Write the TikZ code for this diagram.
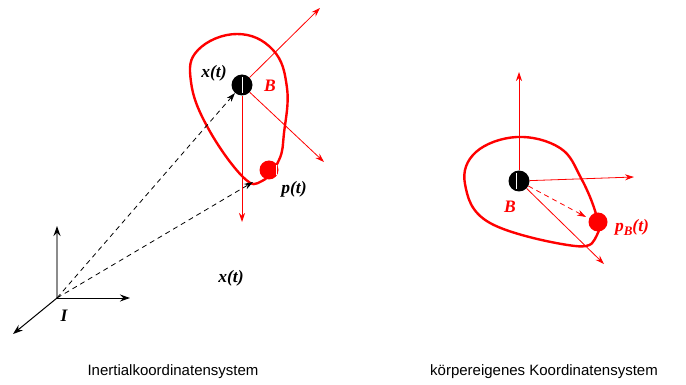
\documentclass[tikz,border=0pt]{standalone}
\usepackage{fontspec}
\setmainfont{Liberation Serif}
\setsansfont{Liberation Sans}
\usetikzlibrary{arrows.meta}
\begin{document}
\begin{tikzpicture}[x=1pt,y=-1pt,
  redaxis/.style={red, line width=0.8pt, -{Stealth[length=9pt,width=6pt]}},
  blackaxis/.style={black, line width=1pt, -{Stealth[length=10pt,width=7pt]}},
  dasharrow/.style={black, line width=0.8pt, dash pattern=on 5pt off 4pt, -{Stealth[length=9pt,width=6pt]}},
  blob/.style={red, line width=2.4pt},
  center/.style={circle, fill=black, inner sep=0pt, minimum size=21pt},
  point/.style={circle, fill=red, inner sep=0pt, minimum size=19pt},
  mlabel/.style={font=\fontsize{17.5}{19}\selectfont\bfseries\itshape, inner sep=1pt},
  caption/.style={font=\sffamily\fontsize{15}{17}\selectfont, inner sep=0pt}]
\useasboundingbox (0,0) rectangle (686,385);
% ---------- left: inertial frame ----------
\coordinate (O) at (57,298);
\coordinate (Iz) at (57,226);
\coordinate (Iy) at (130,298);
\coordinate (Ix) at (13,334);
\draw[blackaxis, draw=black!45, -{Stealth[length=10pt,width=7pt,color=black]}, line width=1.5pt] (O) -- (Iz);
\draw[blackaxis] (O) -- (Iy);
\draw[blackaxis] (O) -- (Ix);
\node[mlabel] (Il) at (64,316) {I};
% body blob
\draw[blob] plot[smooth cycle, tension=0.7] coordinates {(191,82) (198,50) (237,34) (273,50) (287,88) (284,133) (279,160) (262,181) (243,177) (208,128)};
\node[center] (bx) at (242,85) {};
\draw[white, line width=1pt] (242,77) -- (242,93);
\node[point] (px) at (269,170) {};
\draw[white, line width=1pt] (276,165) -- (276,175);
% dashed position vectors
\draw[dasharrow] (O) -- (bx);
\draw[dasharrow] (O) -- (253,182);
% body axes
\coordinate (bxa) at (320,8);
\coordinate (bxb) at (324,162);
\coordinate (bxc) at (242,222);
\draw[redaxis] (bx) -- (bxa);
\draw[redaxis] (bx) -- (bxb);
\draw[redaxis] (bx) -- (bxc);
\node[mlabel] (xl) at (214,73) {x(t)};
\node[mlabel, red] (Bl) at (270,86) {B};
\node[mlabel] (pl) at (294,189) {p(t)};
\node[mlabel] (xl2) at (231,278) {x(t)};
% ---------- right: body frame ----------
\draw[blob] plot[smooth cycle, tension=0.65] coordinates {(465,184) (476,152) (517,137) (560,148) (581,178) (596,214) (597,235) (575,246) (490,223)};
\node[center] (bb) at (519,181) {};
\draw[white, line width=1pt] (516,173) -- (516,189);
\node[point] (pb) at (598,222) {};
\coordinate (bba) at (519,72);
\coordinate (bbb) at (634,177);
\coordinate (bbc) at (604,264);
\draw[redaxis] (bb) -- (bba);
\draw[redaxis] (bb) -- (bbb);
\draw[redaxis] (bb) -- (bbc);
\draw[redaxis, dash pattern=on 5pt off 4pt] (bb) -- (586,217);
\node[mlabel, red] (Bl2) at (510,207) {B};
\node[mlabel, red] (pbl) at (632,227) {p\raisebox{-4pt}{\fontsize{13}{14}\selectfont B}(t)};
% captions
\node[caption] (c1) at (173,372) {Inertialkoordinatensystem};
\node[caption] (c2) at (544,372) {körpereigenes Koordinatensystem};
\end{tikzpicture}
\end{document}
